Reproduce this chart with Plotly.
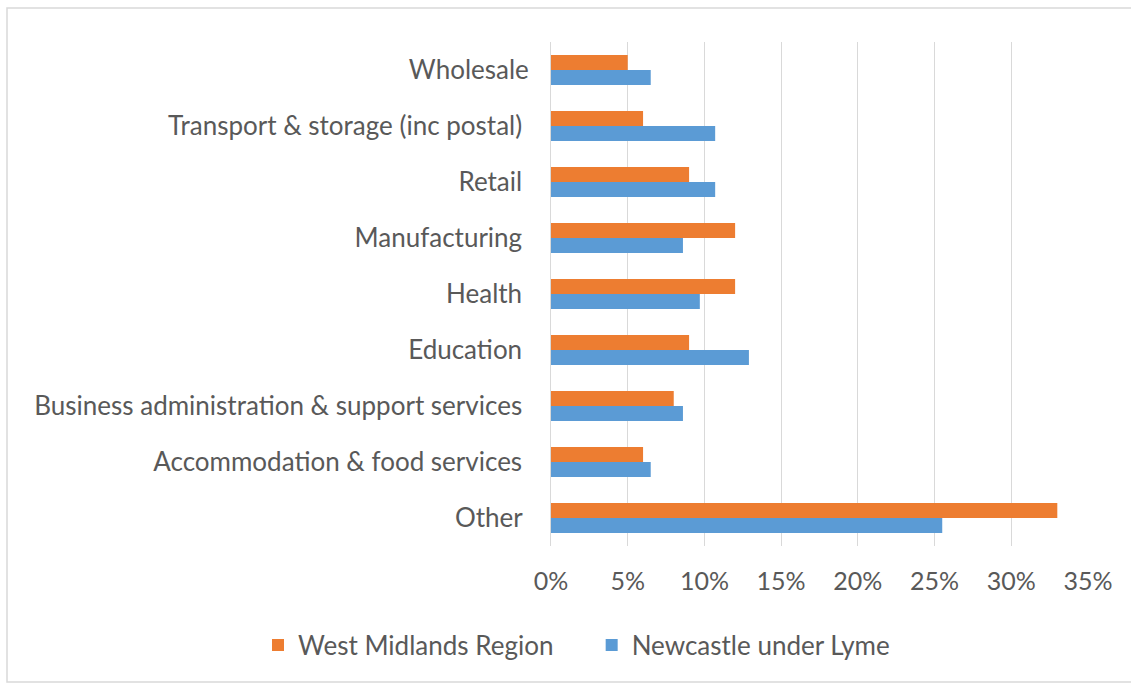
import plotly.graph_objects as go

categories = ["Wholesale", "Transport & storage (inc postal) ", "Retail ", "Manufacturing ",
              "Health ", "Education ", "Business administration & support services ",
              "Accommodation & food services ", "Other "]
west_midlands = [0.050, 0.060, 0.090, 0.120, 0.120, 0.090, 0.080, 0.060, 0.330]
newcastle = [0.065, 0.107, 0.107, 0.086, 0.097, 0.129, 0.086, 0.065, 0.255]
tick_vals = [0, 0.05, 0.10, 0.15, 0.20, 0.25, 0.30, 0.35]
tick_text = ["0%", "5%", "10%", "15%", "20%", "25%", "30%", "35%"]
series_names = ["West Midlands Region" + "\u00a0" * 5, "Newcastle under Lyme"]

ORANGE = "#ED7D31"
BLUE = "#5B9BD5"
GRAY = "#595959"
FONT = "Lato"

fig = go.Figure()
fig.add_trace(go.Bar(y=categories, x=west_midlands, orientation="h", name=series_names[0],
                     marker=dict(color=ORANGE, line=dict(width=0))))
fig.add_trace(go.Bar(y=categories, x=newcastle, orientation="h", name=series_names[1],
                     marker=dict(color=BLUE, line=dict(width=0))))

fig.update_layout(
    width=1131, height=684,
    margin=dict(l=551, r=43, t=42, b=138, autoexpand=False),
    paper_bgcolor="white", plot_bgcolor="white",
    barmode="group", bargap=0.46, bargroupgap=0,
    font=dict(family=FONT, size=26, color=GRAY),
    showlegend=True,
    legend=dict(orientation="h", x=(258 - 551) / 537, xanchor="left",
                y=-(645 - 546) / 504, yanchor="middle",
                bgcolor="rgba(0,0,0,0)",
                font=dict(family=FONT, size=26, color=GRAY), traceorder="normal",
                itemwidth=30, itemsizing="constant"),
    shapes=[dict(type="rect", xref="paper", yref="paper",
                 x0=-544 / 537, x1=1.09, y0=-0.27, y1=1 + 34 / 504,
                 line=dict(color="#D9D9D9", width=1.5), fillcolor="rgba(0,0,0,0)", layer="below")],
)
fig.update_xaxes(range=[0, 0.35], tickvals=tick_vals, ticktext=tick_text,
                 showgrid=True, gridcolor="#D9D9D9", gridwidth=1, zeroline=False,
                 showline=False, ticks="", tickfont=dict(size=25, color=GRAY), ticklabelstandoff=18)
fig.update_yaxes(autorange="reversed", showgrid=False, showline=True, linecolor="#D9D9D9",
                 linewidth=1, ticks="", tickfont=dict(size=26, color=GRAY), ticklabelstandoff=16)

fig.write_html("out.html")
